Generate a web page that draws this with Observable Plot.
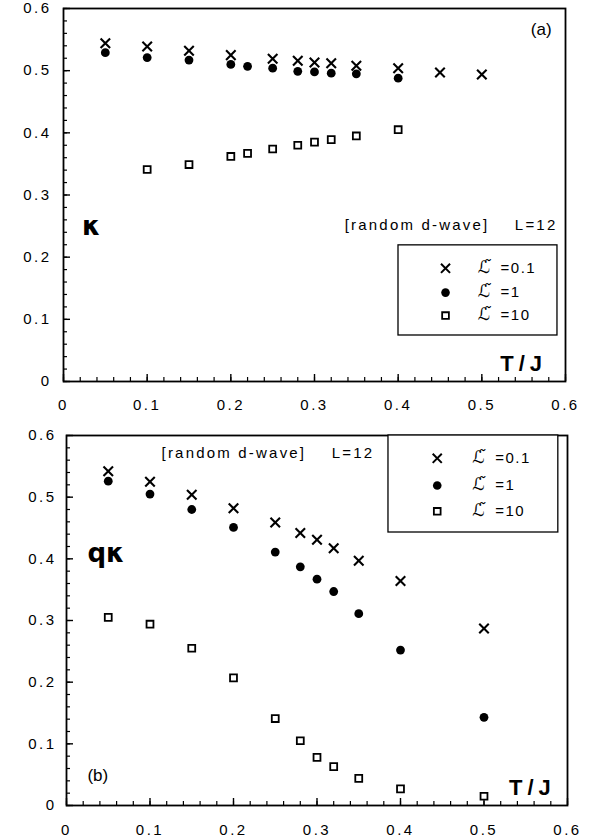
<!DOCTYPE html>
<html><head><meta charset="utf-8">
<script src="https://cdn.jsdelivr.net/npm/d3@7"></script>
<script src="https://cdn.jsdelivr.net/npm/@observablehq/plot@0.6"></script>
<style>
body{margin:0;background:#fff}
svg{display:block}
svg text{white-space:pre}
#chart{width:609px}
</style>
</head><body><div id="chart"></div>
<script>
// ---------- data ----------
const seriesNames = ["0.1", "1", "10"];
// panel (a): kappa vs T/J
const a_T_01 = [0.05,0.1,0.15,0.2,0.25,0.28,0.3,0.32,0.35,0.4,0.45,0.5];
const a_K_01 = [0.544,0.539,0.532,0.525,0.519,0.516,0.513,0.512,0.508,0.504,0.497,0.494];
const a_T_1  = [0.05,0.1,0.15,0.2,0.22,0.25,0.28,0.3,0.32,0.35,0.4];
const a_K_1  = [0.529,0.521,0.517,0.510,0.507,0.504,0.499,0.498,0.496,0.495,0.488];
const a_T_10 = [0.1,0.15,0.2,0.22,0.25,0.28,0.3,0.32,0.35,0.4];
const a_K_10 = [0.341,0.349,0.362,0.367,0.374,0.380,0.385,0.389,0.395,0.405];
// panel (b): q*kappa vs T/J
const b_T = [0.05,0.1,0.15,0.2,0.25,0.28,0.3,0.32,0.35,0.4,0.5];
const b_QK_01 = [0.542,0.525,0.504,0.482,0.459,0.442,0.431,0.417,0.397,0.364,0.287];
const b_QK_1  = [0.526,0.505,0.480,0.451,0.411,0.387,0.367,0.347,0.311,0.252,0.143];
const b_QK_10 = [0.305,0.294,0.255,0.207,0.141,0.105,0.078,0.063,0.044,0.027,0.015];
// ticks
const xTicks = [0,0.1,0.2,0.3,0.4,0.5,0.6];
const xTickLabels = ["0","0.1","0.2","0.3","0.4","0.5","0.6"];
const yTicks = [0,0.1,0.2,0.3,0.4,0.5,0.6];
const yTickLabels = ["0","0.1","0.2","0.3","0.4","0.5","0.6"];
const minorStep = 0.02;

const minorTicks = d3.range(0, 0.6001, minorStep).map(v => +v.toFixed(2));
const zip = (xs, ys) => xs.map((x, i) => ({x, y: ys[i]}));
const fmt = (ticks, labels) => v => labels[ticks.findIndex(t => Math.abs(t - v) < 1e-9)];
const LSYM = "\u2112\u0303";

function panel(opts) {
  const {height, mt, mb, ml, mr, cross, dot, square, texts, legend, tickPadX, tickPadY} = opts;
  const innerH = height - mt - mb;
  const innerW = 609 - ml - mr;
  const lg = legend;
  const marks = [
    Plot.frame({stroke: "black", strokeWidth: 1.8}),
    // inward ticks
    Plot.tickX(minorTicks, {x: d => d, insetTop: innerH - 4, stroke: "black", strokeWidth: 1.2}),
    Plot.tickX(xTicks, {x: d => d, insetTop: innerH - 7, stroke: "black", strokeWidth: 1.4}),
    Plot.tickY(minorTicks, {y: d => d, insetRight: innerW - 4, stroke: "black", strokeWidth: 1.2}),
    Plot.tickY(yTicks, {y: d => d, insetRight: innerW - 7, stroke: "black", strokeWidth: 1.4}),
    Plot.axisX({ticks: xTicks, tickSize: 0, tickPadding: tickPadX, tickFormat: fmt(xTicks, xTickLabels), fontSize: 15}),
    Plot.axisY({ticks: yTicks, tickSize: 0, tickPadding: tickPadY, tickFormat: fmt(yTicks, yTickLabels), fontSize: 15}),
    // legend box
    Plot.rect([0], {x1: () => lg.x1, x2: () => lg.x2, y1: () => lg.y1, y2: () => lg.y2, fill: "white", stroke: "black", strokeWidth: 1.3}),
    Plot.dot([lg.rows[0]], {x: () => lg.sx, y: d => d, symbol: "times", r: 4.2, stroke: "black", strokeWidth: 2}),
    Plot.dot([lg.rows[1]], {x: () => lg.sx, y: d => d, r: 4.3, fill: "black", stroke: "none"}),
    Plot.dot([lg.rows[2]], {x: () => lg.sx, y: d => d, symbol: "square", r: 3.8, fill: "white", stroke: "black", strokeWidth: 1.8}),
    Plot.text(lg.rows.map((y, i) => ({y, t: seriesNames[i]})), {x: () => lg.tx, y: "y", text: d => LSYM + " =" + d.t, textAnchor: "start", fontSize: 15, fontFamily: "Liberation Sans"}),
    // data
    Plot.dot(cross, {x: "x", y: "y", symbol: "times", r: 4.4, stroke: "black", strokeWidth: 2.1}),
    Plot.dot(dot, {x: "x", y: "y", r: 4.4, fill: "black", stroke: "none"}),
    Plot.dot(square, {x: "x", y: "y", symbol: "square", r: 3.9, fill: "white", stroke: "black", strokeWidth: 1.8}),
    ...texts.map(t => Plot.text([t], {x: "x", y: "y", text: "s", textAnchor: t.anchor, fontSize: t.size, fontWeight: t.weight || "normal", fontFamily: t.font || "Liberation Sans"}))
  ];
  const svg = Plot.plot({
    width: 609, height,
    marginTop: mt, marginBottom: mb, marginLeft: ml, marginRight: mr,
    x: {domain: [0, 0.6], label: null},
    y: {domain: [0, 0.6], label: null},
    style: {fontFamily: "Liberation Sans", background: "white", color: "black", overflow: "visible"},
    marks
  });
  const sel = d3.select(svg);
  sel.selectAll('g[aria-label="x-axis tick label"] text, g[aria-label="y-axis tick label"] text').style("letter-spacing", "2.5px");
  sel.selectAll("text").filter(function() { return this.textContent.startsWith("[random"); }).style("letter-spacing", "2.2px");
  sel.selectAll("text").filter(function() { return this.textContent === "T/J"; }).style("letter-spacing", "5px");
  // legend labels: script L with combining tilde, then "=value"
  sel.selectAll("text").filter(function() { return this.textContent.startsWith(LSYM); }).each(function() {
    const rest = this.textContent.slice(LSYM.length);
    const t = d3.select(this);
    t.text(null);
    t.append("tspan").attr("font-family", "DejaVu Sans").attr("font-style", "italic").attr("font-size", 17).text(LSYM);
    t.append("tspan").attr("dx", 5).style("letter-spacing", "1.5px").text(rest);
  });
  return svg;
}

const svgA = panel({
  height: 415, mt: 8, mb: 34, ml: 63, mr: 44, tickPadX: 18, tickPadY: 12,
  cross: zip(a_T_01, a_K_01), dot: zip(a_T_1, a_K_1), square: zip(a_T_10, a_K_10),
  legend: {x1: 0.4004, x2: 0.5904, y1: 0.074, y2: 0.219, sx: 0.4566, tx: 0.495, rows: [0.182, 0.143, 0.106]},
  texts: [
    {x: 0.571, y: 0.566, s: "(a)", anchor: "middle", size: 17},
    {x: 0.022, y: 0.249, s: "κ", anchor: "start", size: 26, weight: "bold", font: "DejaVu Sans"},
    {x: 0.5904, y: 0.252, s: "[random d-wave]    L=12", anchor: "end", size: 15},
    {x: 0.578, y: 0.029, s: "T/J", anchor: "end", size: 22, weight: "bold"}
  ]
});
const svgB = panel({
  height: 425, mt: 20, mb: 35, ml: 66, mr: 42, tickPadX: 19, tickPadY: 10,
  cross: zip(b_T, b_QK_01), dot: zip(b_T, b_QK_1), square: zip(b_T, b_QK_10),
  legend: {x1: 0.3856, x2: 0.589, y1: 0.4427, y2: 0.6, sx: 0.444, tx: 0.486, rows: [0.563, 0.519, 0.477]},
  texts: [
    {x: 0.1138, y: 0.572, s: "[random d-wave]    L=12", anchor: "start", size: 15},
    {x: 0.025, y: 0.409, s: "qκ", anchor: "start", size: 26, weight: "bold", font: "DejaVu Sans"},
    {x: 0.025, y: 0.049, s: "(b)", anchor: "start", size: 17},
    {x: 0.586, y: 0.029, s: "T/J", anchor: "end", size: 22, weight: "bold"}
  ]
});
document.getElementById("chart").append(svgA, svgB);
</script>
</body></html>
